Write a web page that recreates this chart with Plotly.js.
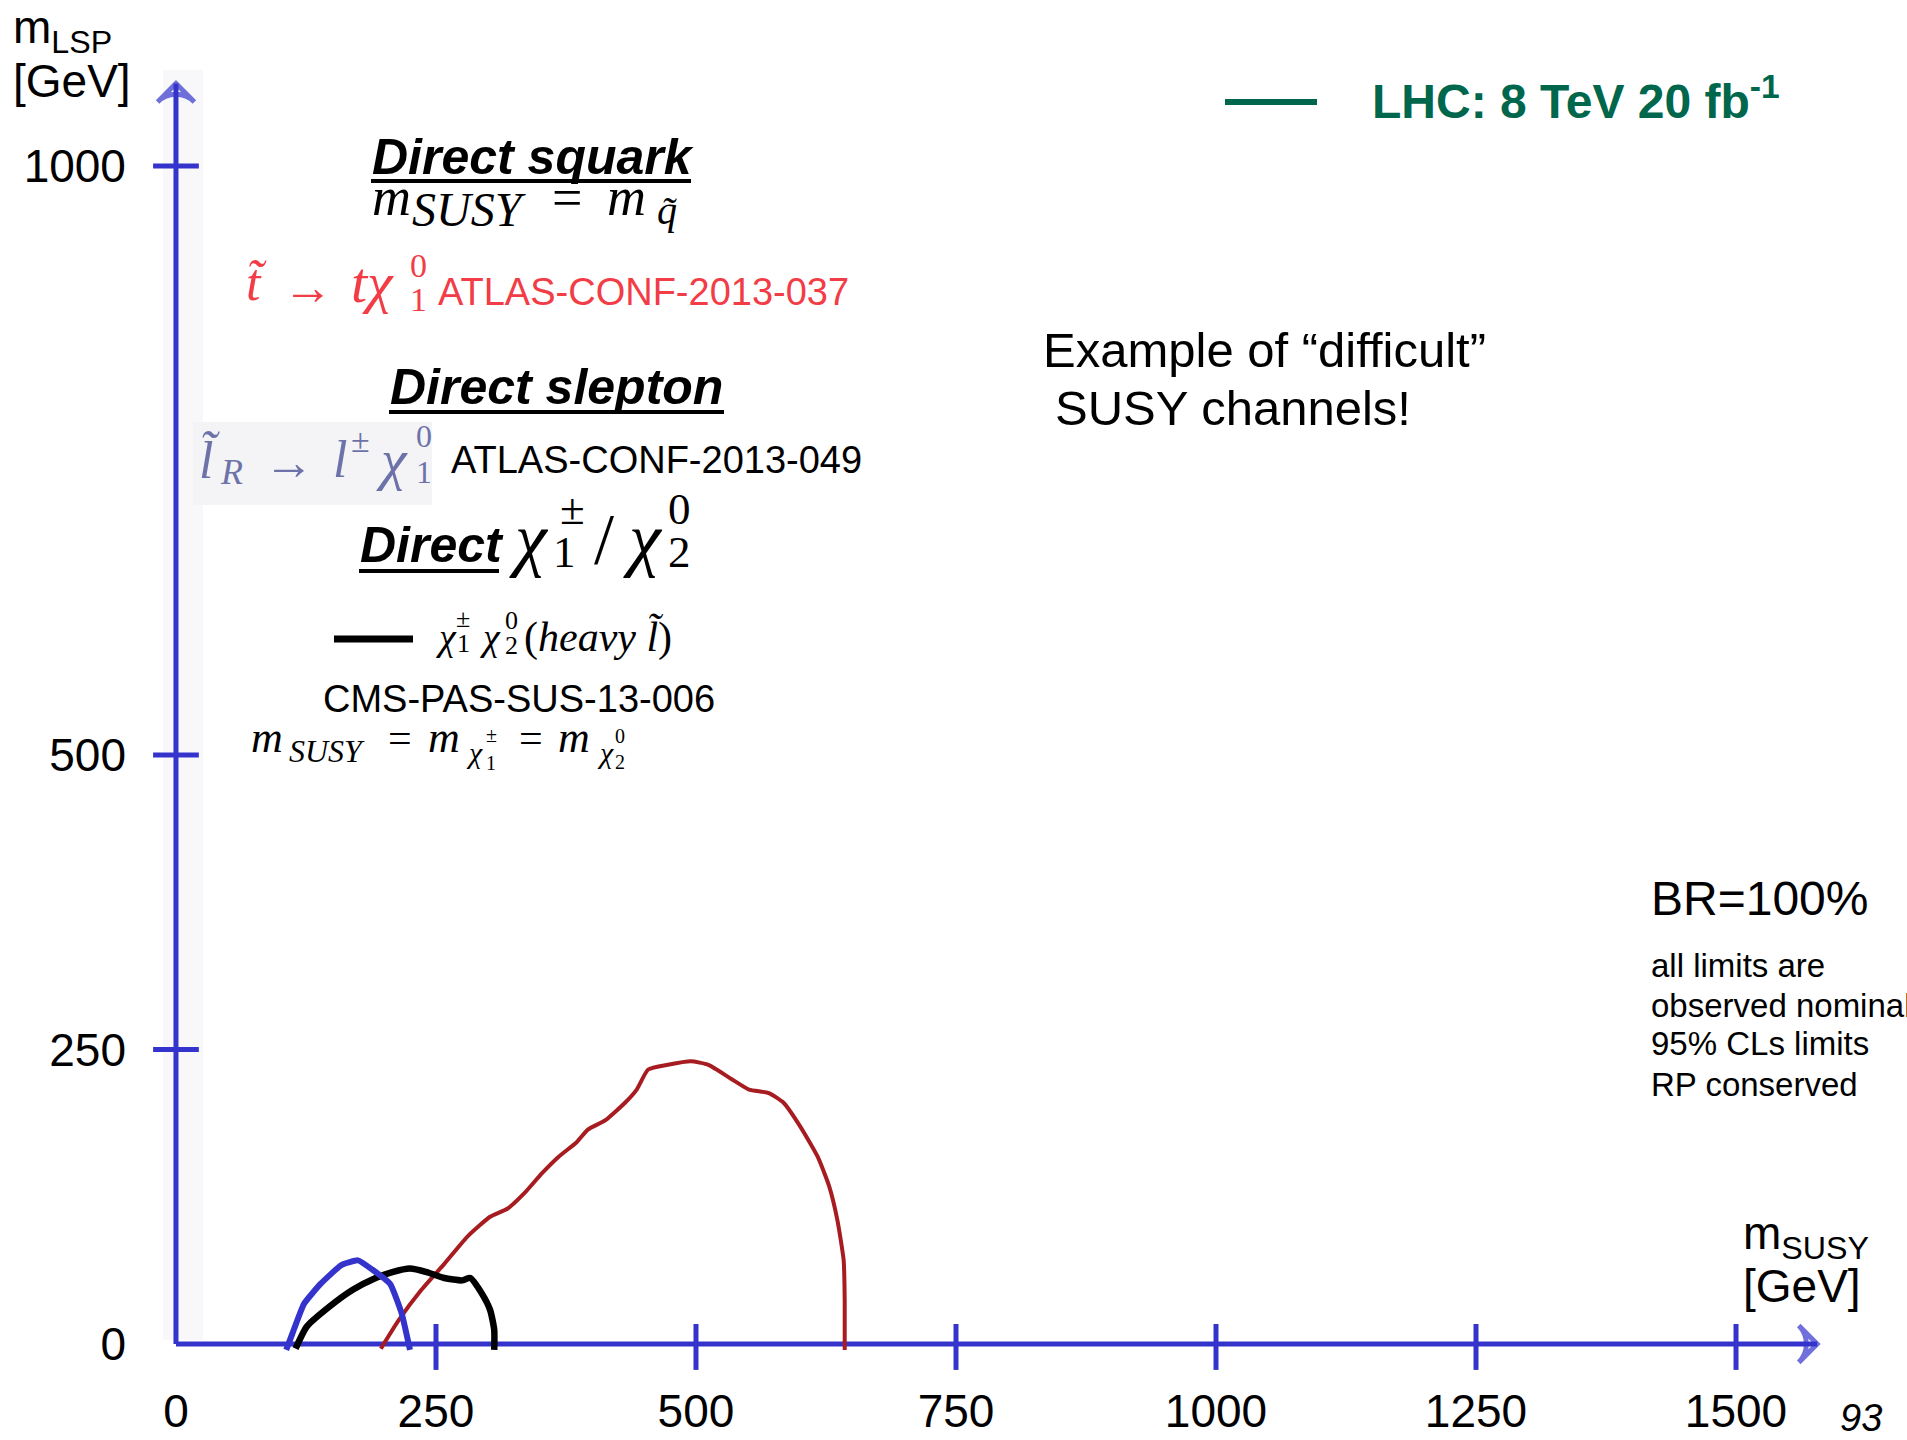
<!DOCTYPE html>
<html><head><meta charset="utf-8">
<script src="https://cdn.plot.ly/plotly-3.0.1.min.js"></script>
<style>html,body{margin:0;padding:0;background:#fff}</style>
</head><body><div id="chart" style="width:1907px;height:1440px"></div>
<script>
// ---------------- data ----------------
const xTickVals = [0, 250, 500, 750, 1000, 1250, 1500];
const xTickText = ['0', '250', '500', '750', '1000', '1250', '1500'];
const yTickVals = [0, 250, 500, 1000];
const yTickText = ['0', '250', '500', '1000'];

// stop -> t chi10 (ATLAS-CONF-2013-037), red
const stopX = [197, 214, 236, 258, 280, 302, 319, 335, 352, 368, 385, 396, 413, 432, 443, 454, 473, 495, 512, 534, 551, 570, 584, 600, 617, 628, 636, 642, 643, 643];
const stopY = [-4, 20, 46, 68, 91, 108, 115, 128, 145, 159, 171, 182, 190, 205, 216, 233, 237, 240, 237, 225, 216, 213, 205, 185, 159, 134, 105, 71, 37, -5];

// chi1+- chi20 (heavy slepton) CMS-PAS-SUS-13-006, black
const charginoX = [115, 126, 148, 170, 192, 208, 225, 241, 258, 275, 283, 294, 302, 306, 306];
const charginoY = [-4, 15, 32, 46, 56, 61, 64, 61, 56, 54, 56, 43, 29, 12, -5];

// slepton_R -> l chi10 (ATLAS-CONF-2013-049), blue
const sleptonX = [106, 112, 123, 139, 159, 175, 189, 206, 217, 225];
const sleptonY = [-5, 9, 34, 51, 67, 71, 63, 51, 26, -5];

const xAxisEnd = 1578;   // arrow tip of the m_SUSY axis
const yAxisEnd = 1070;   // arrow tip of the m_LSP axis

// ---------------- style ----------------
const W = 1907, H = 1440;
const BLUE = '#3434cc';
const SANS = 'Liberation Sans, Arial, Helvetica, sans-serif';
const SERIF = 'Liberation Serif, Times New Roman, serif';
const RED_TXT = '#f23c46';
const GREEN = '#00664c';
const SLATE = '#6d73a8';

function T(text, x, y, size, o) {
  o = o || {};
  return {xref: 'paper', yref: 'paper', x: x / W, y: 1 - y / H, text: text, showarrow: false,
    xanchor: o.xa || 'left', yanchor: 'middle', borderpad: 0,
    font: {family: o.f || SANS, size: size, color: o.c || '#000'}};
}
function S(o) { return Object.assign({f: SERIF}, o || {}); }
function SC(o) { return Object.assign({f: SERIF, xa: 'center'}, o || {}); }

const axisLine = {color: BLUE, width: 5, backoff: 0};
const axisMarker = {symbol: 'arrow-wide-open', angleref: 'previous', size: [0, 26], color: BLUE,
  line: {color: BLUE, width: 5}};

const traces = [
  {x: [0, xAxisEnd], y: [0, 0], mode: 'lines+markers', line: axisLine, marker: axisMarker, cliponaxis: false, hoverinfo: 'skip', showlegend: false},
  {x: [0, 0], y: [0, yAxisEnd], mode: 'lines+markers', line: axisLine, marker: axisMarker, cliponaxis: false, hoverinfo: 'skip', showlegend: false},
  {x: stopX, y: stopY, mode: 'lines', line: {color: '#a61c20', width: 4, shape: 'spline', smoothing: 0.5}, hoverinfo: 'skip', showlegend: false},
  {x: charginoX, y: charginoY, mode: 'lines', line: {color: '#000', width: 6.5, shape: 'spline', smoothing: 0.6}, hoverinfo: 'skip', showlegend: false},
  {x: sleptonX, y: sleptonY, mode: 'lines', line: {color: BLUE, width: 6, shape: 'spline', smoothing: 0.4}, hoverinfo: 'skip', showlegend: false}
];

const shapes = [];
function PL(x0, y0, x1, y1, color, width) {
  shapes.push({type: 'line', xref: 'paper', yref: 'paper', x0: x0 / W, y0: 1 - y0 / H, x1: x1 / W, y1: 1 - y1 / H,
    line: {color: color, width: width}});
}
// faint pasted-image backgrounds
shapes.push({type: 'rect', xref: 'paper', yref: 'paper', x0: 163 / W, x1: 203 / W, y0: 1 - 1340 / H, y1: 1 - 70 / H,
  fillcolor: '#f8f8fa', line: {width: 0}, layer: 'below'});
shapes.push({type: 'rect', xref: 'paper', yref: 'paper', x0: 193 / W, x1: 432 / W, y0: 1 - 505 / H, y1: 1 - 422 / H,
  fillcolor: '#f4f4f7', line: {width: 0}, layer: 'below'});
// axis ticks crossing the axes
xTickVals.forEach(v => { if (v > 0) shapes.push({type: 'line', xref: 'x', yref: 'y', x0: v, x1: v, y0: -22, y1: 17, line: {color: BLUE, width: 5}}); });
yTickVals.forEach(v => { if (v > 0) shapes.push({type: 'line', xref: 'x', yref: 'y', x0: -22, x1: 22, y0: v, y1: v, line: {color: BLUE, width: 5}}); });
// legend lines and underlines
PL(1225, 102, 1317, 102, GREEN, 6);
PL(334, 639, 413, 639, '#000', 7);
PL(371, 181, 691, 181, '#000', 4);
PL(389, 412, 724, 412, '#000', 4);
PL(359, 571, 499, 571, '#000', 4);

const ann = [
  // axis titles
  T('m<sub>LSP</sub>', 12, 30, 46),
  T('[GeV]', 12, 81, 46),
  T('m<sub>SUSY</sub>', 1742, 1236, 46),
  T('[GeV]', 1742, 1286, 46),
  T('<i>93</i>', 1839, 1418, 38),
  // LHC legend
  T('<b>LHC: 8 TeV 20 fb<sup>-1</sup></b>', 1371, 98, 48, {c: GREEN}),
  // Direct squark
  T('<b><i>Direct squark</i></b>', 371, 157, 50),
  T('<i>m</i>', 371, 197, 54, S()),
  T('<i>SUSY</i>', 411, 209, 48, S()),
  T('=', 551, 198, 54, S()),
  T('<i>m</i>', 606, 197, 54, S()),
  T('<i>q̃</i>', 656, 210, 40, S()),
  T('<i>t̃</i>', 245, 283, 52, S({c: RED_TXT})),
  T('→', 282, 287, 50, {c: RED_TXT}),
  T('<i>tχ</i>', 350, 283, 58, S({c: RED_TXT})),
  T('0', 418, 265, 34, SC({c: RED_TXT})),
  T('1', 418, 299, 34, SC({c: RED_TXT})),
  T('ATLAS-CONF-2013-037', 437, 292, 38, {c: RED_TXT}),
  // Direct slepton
  T('<b><i>Direct slepton</i></b>', 389, 387, 50),
  T('<i>l̃</i>', 198, 460, 52, S({c: SLATE})),
  T('<i>R</i>', 219, 472, 36, S({c: SLATE})),
  T('→', 263, 462, 50, {c: SLATE}),
  T('<i>l</i>', 332, 460, 52, S({c: SLATE})),
  T('±', 360, 440, 34, SC({c: SLATE})),
  T('<i>χ</i>', 375, 460, 58, S({c: SLATE})),
  T('0', 424, 436, 32, SC({c: SLATE})),
  T('1', 424, 472, 32, SC({c: SLATE})),
  T('ATLAS-CONF-2013-049', 450, 460, 38),
  // Direct chi
  T('<b><i>Direct</i></b>', 359, 545, 50),
  T('<i>χ</i>', 508, 539, 72, S()),
  T('±', 572, 509, 45, SC()),
  T('1', 564, 552, 45, SC()),
  T('/', 593, 539, 72, S()),
  T('<i>χ</i>', 622, 539, 72, S()),
  T('0', 679, 509, 45, SC()),
  T('2', 679, 552, 45, SC()),
  // chargino legend
  T('<i>χ</i>', 434, 637, 38, S()),
  T('±', 463, 618, 26, SC()),
  T('1', 463, 643, 26, SC()),
  T('<i>χ</i>', 478, 637, 38, S()),
  T('0', 511, 620, 26, SC()),
  T('2', 511, 645, 26, SC()),
  T('(<i>heavy l̃</i>)', 523, 637, 42, S()),
  T('CMS-PAS-SUS-13-006', 322, 699, 38),
  T('<i>m</i>', 250, 738, 44, S()),
  T('<i>SUSY</i>', 288, 751, 32, S()),
  T('=', 387, 738, 42, S()),
  T('<i>m</i>', 427, 738, 44, S()),
  T('<i>χ</i>', 465, 752, 30, S()),
  T('±', 491, 735, 20, SC()),
  T('1', 491, 763, 20, SC()),
  T('=', 518, 738, 42, S()),
  T('<i>m</i>', 557, 738, 44, S()),
  T('<i>χ</i>', 596, 752, 30, S()),
  T('0', 620, 736, 20, SC()),
  T('2', 620, 762, 20, SC()),
  // right side texts
  T('Example of “difficult”', 1042, 350, 49),
  T('SUSY channels!', 1054, 408, 49),
  T('BR=100%', 1650, 898, 48),
  T('all limits are', 1650, 966, 33),
  T('observed nominal', 1650, 1005, 33),
  T('95% CLs limits', 1650, 1043, 33),
  T('RP conserved', 1650, 1084, 33)
];

const layout = {
  width: W, height: H,
  margin: {l: 0, r: 0, t: 0, b: 0},
  paper_bgcolor: '#fff', plot_bgcolor: '#fff',
  showlegend: false,
  xaxis: {range: [-169.2, 1664.4], anchor: 'free', position: 0.0667, tickvals: xTickVals, ticktext: xTickText,
    showgrid: false, zeroline: false, showline: false, ticks: '', ticklabelstandoff: 36,
    tickfont: {family: SANS, size: 46, color: '#000'}, fixedrange: true},
  yaxis: {range: [-81.5, 1140.9], anchor: 'free', position: 0.09228, tickvals: yTickVals, ticktext: yTickText,
    showgrid: false, zeroline: false, showline: false, ticks: '', ticklabelstandoff: 50,
    tickfont: {family: SANS, size: 46, color: '#000'}, fixedrange: true},
  shapes: shapes,
  annotations: ann
};

Plotly.newPlot('chart', traces, layout, {displayModeBar: false, staticPlot: true});
</script>
</body></html>
